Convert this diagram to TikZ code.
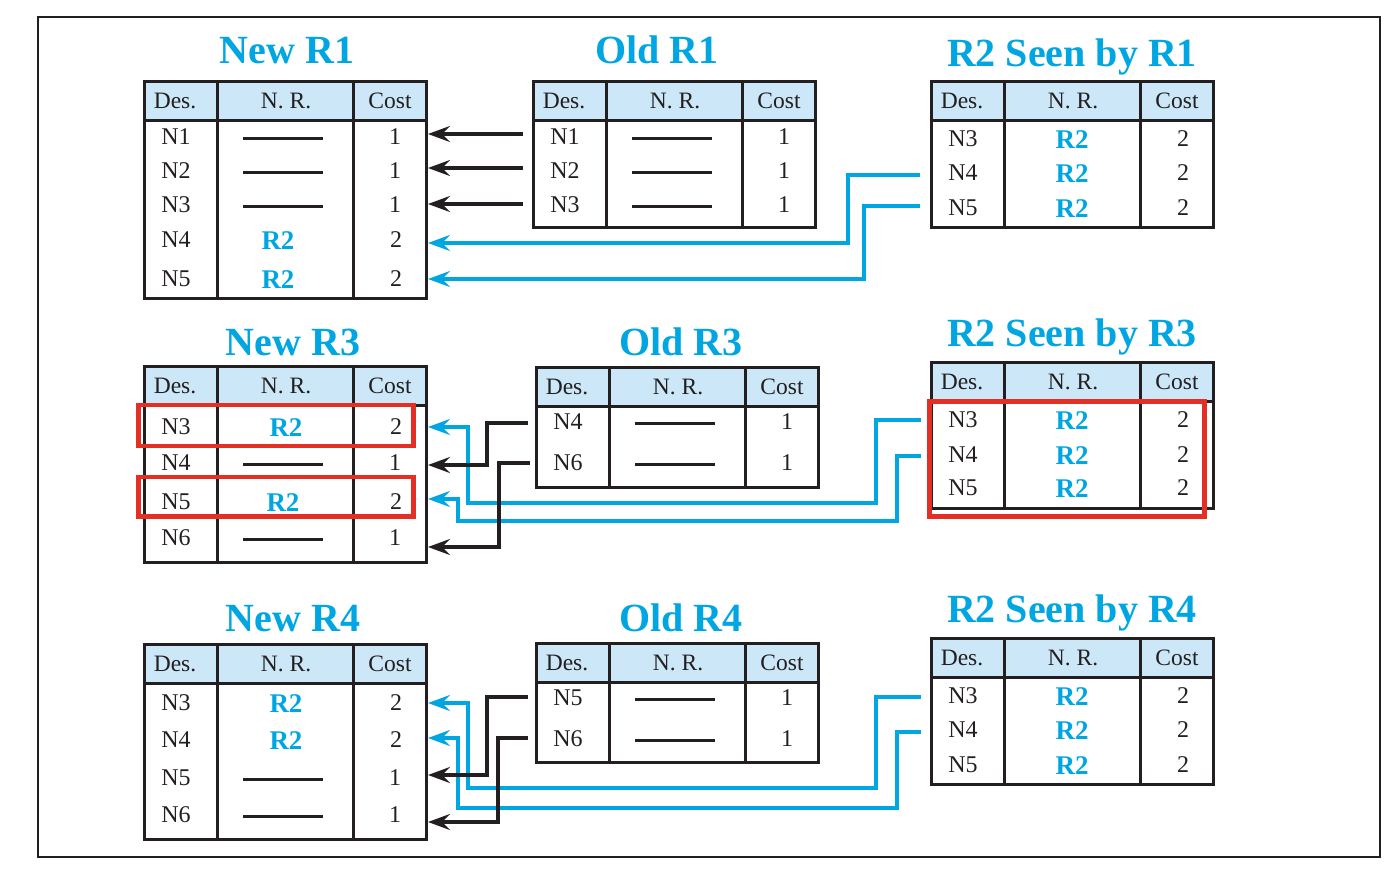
\documentclass[tikz,border=0pt]{standalone}
\usepackage{fontspec}
\setmainfont{Liberation Serif}
\usetikzlibrary{arrows.meta}
\definecolor{ink}{RGB}{35,31,32}
\definecolor{cyanc}{RGB}{0,166,226}
\definecolor{hdrfill}{RGB}{204,232,248}
\definecolor{redc}{RGB}{228,48,36}
\newcommand\hdrfont{\fontsize{23.5}{26}\selectfont}
\newcommand\cellfont{\fontsize{24}{27}\selectfont}
\newcommand\rtfont{\fontsize{27}{30}\selectfont\bfseries}
\newcommand\ttlfont{\fontsize{40}{44}\selectfont\bfseries}
\tikzset{
  hdr/.style={font=\hdrfont, text=ink, inner sep=0pt, text height=15.5pt, text depth=0pt},
  cell/.style={font=\cellfont, text=ink, inner sep=0pt, text height=15.8pt, text depth=0pt},
  rtwo/.style={font=\rtfont, text=cyanc, inner sep=0pt, text height=18pt, text depth=0pt},
  ttl/.style={font=\ttlfont, text=cyanc, inner sep=0pt, text height=27pt, text depth=0pt},
  tline/.style={line width=3pt, draw=ink},
  dashl/.style={line width=3pt, draw=ink},
  frame/.style={line width=2.5pt, draw=ink},
  redbox/.style={line width=4.5pt, draw=redc},
  blk/.style={line width=4pt, draw=ink, -{Stealth[length=22pt,width=16pt,inset=8pt]}},
  blu/.style={line width=4pt, draw=cyanc, -{Stealth[length=22pt,width=16pt,inset=8pt]}},
}
% table: name, x0, y0 (top), y1 (bottom)
\newcommand\tbl[4]{%
  \fill[hdrfill] (#2,#3) rectangle (#2+282,#3+39);
  \draw[tline] (#2,#3+39) -- (#2+282,#3+39);
  \draw[tline] (#2+73,#3) -- (#2+73,#4);
  \draw[tline] (#2+209,#3) -- (#2+209,#4);
  \draw[tline] (#2,#3) rectangle (#2+282,#4);
  \node[hdr] (#1h1) at (#2+31,#3+20) {Des.};
  \node[hdr] (#1h2) at (#2+142,#3+20) {N. R.};
  \node[hdr] (#1h3) at (#2+246,#3+20) {Cost};
}
% row with dash: name, x0, y, des, cost
\newcommand\rowd[5]{%
  \node[cell] (#1d) at (#2+32,#3) {#4};
  \draw[dashl] (#2+99,#3+1) -- (#2+179,#3+1);
  \node[cell] (#1c) at (#2+251,#3) {#5};
}
% row with R2: name, x0, y, des, cost, x offset of R2
\newcommand\rowr[6]{%
  \node[cell] (#1d) at (#2+32,#3) {#4};
  \node[rtwo] (#1n) at (#2+#6,#3) {R2};
  \node[cell] (#1c) at (#2+252,#3) {#5};
}
\begin{document}
\begin{tikzpicture}[x=1pt,y=-1pt]
\useasboundingbox (0,0) rectangle (1398,878);
\draw[frame] (38,17) rectangle (1380,857);

% ---------- Row 1 ----------
\node[ttl] (tn1) at (287,50) {New R1};
\node[ttl] (to1) at (657,50) {Old R1};
\node[ttl] (ts1) at (1072,53) {R2 Seen by R1};

\tbl{na}{144}{81}{298}
\rowd{na1}{144}{137}{N1}{1}
\rowd{na2}{144}{171}{N2}{1}
\rowd{na3}{144}{205}{N3}{1}
\rowr{na4}{144}{240}{N4}{2}{134}
\rowr{na5}{144}{279}{N5}{2}{134}

\tbl{oa}{533}{81}{227}
\rowd{oa1}{533}{137}{N1}{1}
\rowd{oa2}{533}{171}{N2}{1}
\rowd{oa3}{533}{205}{N3}{1}

\tbl{sa}{931}{81}{227}
\rowr{sa1}{931}{139}{N3}{2}{141}
\rowr{sa2}{931}{173}{N4}{2}{141}
\rowr{sa3}{931}{208}{N5}{2}{141}

\coordinate (oa1s) at (523,134);
\coordinate (oa2s) at (523,168);
\coordinate (oa3s) at (523,204);
\coordinate (na1t) at (428,134);
\coordinate (na2t) at (428,168);
\coordinate (na3t) at (428,204);
\coordinate (sa2s) at (920,175);
\coordinate (sa3s) at (920,206);
\coordinate (na4t) at (428,243);
\coordinate (na5t) at (428,279);
\draw[blk] (oa1s) -- (na1t);
\draw[blk] (oa2s) -- (na2t);
\draw[blk] (oa3s) -- (na3t);
\draw[blu] (sa2s) -- (848,175) -- (848,243) -- (na4t);
\draw[blu] (sa3s) -- (864,206) -- (864,279) -- (na5t);

% ---------- Row 2 ----------
\node[ttl] (tn3) at (293,342) {New R3};
\node[ttl] (to3) at (681,342) {Old R3};
\node[ttl] (ts3) at (1072,333) {R2 Seen by R3};

\tbl{nb}{144}{366}{562}
\rowr{nb1}{144}{427}{N3}{2}{142}
\rowd{nb2}{144}{463}{N4}{1}
\rowr{nb3}{144}{502}{N5}{2}{139}
\rowd{nb4}{144}{538}{N6}{1}

\tbl{ob}{536}{367}{487}
\rowd{ob1}{536}{422}{N4}{1}
\rowd{ob2}{536}{463}{N6}{1}

\tbl{sb}{931}{362}{508}
\rowr{sb1}{931}{420}{N3}{2}{141}
\rowr{sb2}{931}{455}{N4}{2}{141}
\rowr{sb3}{931}{488}{N5}{2}{141}

\draw[redbox] (138.5,405) rectangle (413.5,446);
\draw[redbox] (138.5,477) rectangle (413.5,516.5);
\draw[redbox] (929.5,401.5) rectangle (1204.5,516.5);

\coordinate (sb1s) at (921,420);
\coordinate (sb2s) at (921,456);
\coordinate (ob1s) at (528,423);
\coordinate (ob2s) at (530,463);
\coordinate (nb1t) at (428,427);
\coordinate (nb2t) at (428,465);
\coordinate (nb3t) at (428,499);
\coordinate (nb4t) at (428,547);
\draw[blu] (sb1s) -- (876,420) -- (876,503) -- (468,503) -- (468,427) -- (nb1t);
\draw[blu] (sb2s) -- (897,456) -- (897,521) -- (458,521) -- (458,499) -- (nb3t);
\draw[blk] (ob1s) -- (487,423) -- (487,465) -- (nb2t);
\draw[blk] (ob2s) -- (499,463) -- (499,547) -- (nb4t);

% ---------- Row 3 ----------
\node[ttl] (tn4) at (293,618) {New R4};
\node[ttl] (to4) at (681,618) {Old R4};
\node[ttl] (ts4) at (1072,609) {R2 Seen by R4};

\tbl{nc}{144}{644}{839}
\rowr{nc1}{144}{703}{N3}{2}{142}
\rowr{nc2}{144}{740}{N4}{2}{142}
\rowd{nc3}{144}{778}{N5}{1}
\rowd{nc4}{144}{815}{N6}{1}

\tbl{oc}{536}{643}{762}
\rowd{oc1}{536}{698}{N5}{1}
\rowd{oc2}{536}{739}{N6}{1}

\tbl{sc}{931}{638}{784}
\rowr{sc1}{931}{696}{N3}{2}{141}
\rowr{sc2}{931}{730}{N4}{2}{141}
\rowr{sc3}{931}{765}{N5}{2}{141}

\coordinate (sc1s) at (921,697);
\coordinate (sc2s) at (921,732);
\coordinate (oc1s) at (528,697);
\coordinate (oc2s) at (528,738);
\coordinate (nc1t) at (428,703);
\coordinate (nc2t) at (428,738);
\coordinate (nc3t) at (428,775);
\coordinate (nc4t) at (428,822);
\draw[blu] (sc1s) -- (876,697) -- (876,788) -- (468,788) -- (468,703) -- (nc1t);
\draw[blu] (sc2s) -- (897,732) -- (897,808) -- (458,808) -- (458,738) -- (nc2t);
\draw[blk] (oc1s) -- (487,697) -- (487,775) -- (nc3t);
\draw[blk] (oc2s) -- (498,738) -- (498,822) -- (nc4t);
\end{tikzpicture}
\end{document}
